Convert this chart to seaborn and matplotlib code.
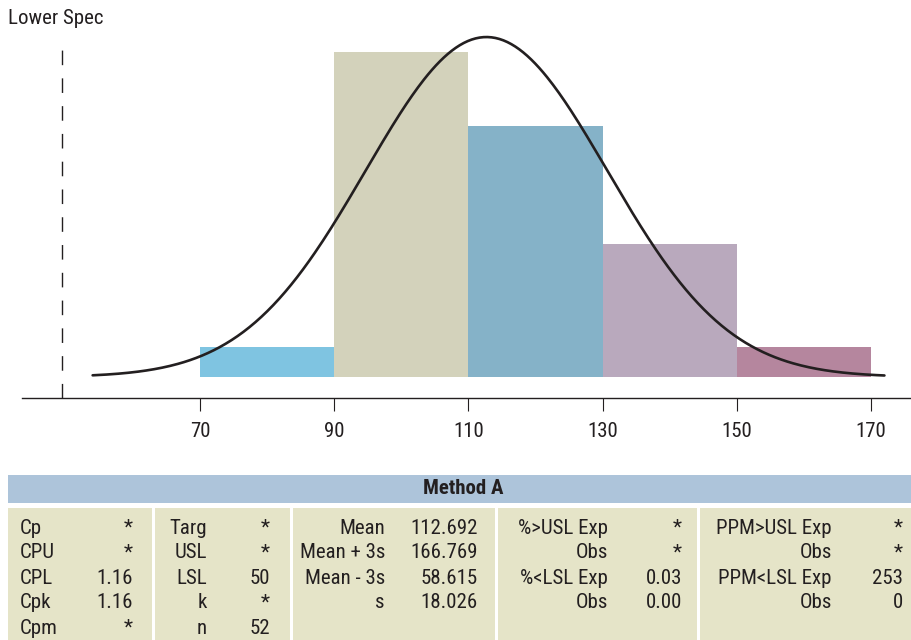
import numpy as np
import pandas as pd
import seaborn as sns
import matplotlib
matplotlib.use("Agg")
from matplotlib import pyplot as plt
from matplotlib import font_manager
from matplotlib.patches import Rectangle

# histogram data (bins of width 20)
bin_edges = [70, 90, 110, 130, 150, 170]
counts = [2, 22, 17, 9, 2]
bar_colors = ["#7FC4E1", "#D3D2BB", "#85B2C8", "#B9A9BD", "#B5869E"]
tick_values = [70, 90, 110, 130, 150, 170]

# process statistics
mean = 112.692
s = 18.026
n = 52
lsl = 50
curve_range = (54, 172)

# capability table
table_title = "Method A"
col_labels = [
    ["Cp", "CPU", "CPL", "Cpk", "Cpm"],
    ["Targ", "USL", "LSL", "k", "n"],
    ["Mean", "Mean + 3s", "Mean - 3s", "s"],
    ["%>USL Exp", "Obs", "%<LSL Exp", "Obs"],
    ["PPM>USL Exp", "Obs", "PPM<LSL Exp", "Obs"],
]
col_values = [
    ["*", "*", "1.16", "1.16", "*"],
    ["*", "*", "50", "*", "52"],
    ["112.692", "166.769", "58.615", "18.026"],
    ["*", "*", "0.03", "0.00"],
    ["*", "*", "253", "0"],
]

# a narrow face looks closest to the original condensed type
ttf = font_manager.fontManager.ttflist
names = {f.name for f in ttf}
font, stretch = "DejaVu Sans", "normal"
for cand in ["Liberation Sans Narrow", "Roboto Condensed", "DejaVu Sans Condensed",
             "Open Sans Condensed"]:
    if cand in names:
        font, stretch = cand, "normal"
        break
else:
    if any(f.name == "DejaVu Sans" and f.stretch == "condensed" for f in ttf):
        stretch = "condensed"

sns.set_theme(style="white")
plt.rcParams["font.family"] = [font, "DejaVu Sans"]
plt.rcParams["font.stretch"] = stretch
fs = 15 if (font != "DejaVu Sans" or stretch == "condensed") else 11.5
ink = "#231F20"

fig = plt.figure(figsize=(9.11, 6.4), dpi=100)
ax = fig.add_axes([22 / 911, 1 - 398 / 640, 1 - 22 / 911, (398 - 30) / 640])

centers = [(a + b) / 2 for a, b in zip(bin_edges[:-1], bin_edges[1:])]
labels = [f"{a}-{b}" for a, b in zip(bin_edges[:-1], bin_edges[1:])]
df = pd.DataFrame({"x": centers, "count": counts, "bin": labels})
sns.histplot(data=df, x="x", weights="count", hue="bin", hue_order=labels,
             palette=bar_colors, bins=bin_edges, alpha=1, linewidth=0,
             legend=False, ax=ax)

# fitted normal curve, scaled to counts
width = bin_edges[1] - bin_edges[0]
xs = np.linspace(curve_range[0], curve_range[1], 400)
ys = n * width * np.exp(-0.5 * ((xs - mean) / s) ** 2) / (s * np.sqrt(2 * np.pi))
sns.lineplot(x=xs, y=ys, color=ink, linewidth=1.9, ax=ax)

px = 14.77  # pixels per count
ax.set_xlim(70 - 178 / 6.71, 170 + 40 / 6.71)
ax.set_ylim(-21 / px, (377 - 30) / px)
ax.axvline(lsl - 0.6, ymin=0, ymax=(398 - 40) / (398 - 30), color=ink,
           linewidth=1.0, dashes=(10.5, 9.5))
fig.text(8 / 911, 1 - 18 / 640, "Lower Spec", fontsize=fs, ha="left",
         va="center", color=ink)

for side in ["left", "right", "top"]:
    ax.spines[side].set_visible(False)
ax.spines["bottom"].set_color(ink)
ax.spines["bottom"].set_linewidth(1.0)
ax.set_xticks(tick_values)
ax.set_yticks([])
ax.tick_params(axis="x", direction="out", length=9.5, width=0.8, pad=8,
               labelsize=fs, colors=ink, bottom=True)
ax.set_xlabel("")
ax.set_ylabel("")

# table drawn in pixel coordinates
tab = fig.add_axes([0, 0, 1, 1])
tab.set_xlim(0, 911)
tab.set_ylim(640, 0)
tab.axis("off")
tab.add_patch(Rectangle((8, 475), 903, 28, color="#ADC4DA", lw=0))
tab.text(463, 489, table_title, fontsize=fs, fontweight="bold",
         ha="center", va="center", color=ink)

cells = [(8, 152), (155, 290), (293, 495), (498, 697), (700, 911)]
label_x = [(20, "left"), (207, "right"), (385, "right"), (608, "right"), (832, "right")]
value_x = [133, 270, 478, 682, 903]
row_y = [528, 553, 578, 603, 628]
for i, (x0, x1) in enumerate(cells):
    tab.add_patch(Rectangle((x0, 508), x1 - x0, 132, color="#E5E4C8", lw=0))
    lx, ha = label_x[i]
    for j, (lab, val) in enumerate(zip(col_labels[i], col_values[i])):
        tab.text(lx, row_y[j], lab, fontsize=fs, ha=ha, va="center", color=ink)
        tab.text(value_x[i], row_y[j], val, fontsize=fs, ha="right", va="center",
                 color=ink)

fig.savefig("out.png", dpi=100)
